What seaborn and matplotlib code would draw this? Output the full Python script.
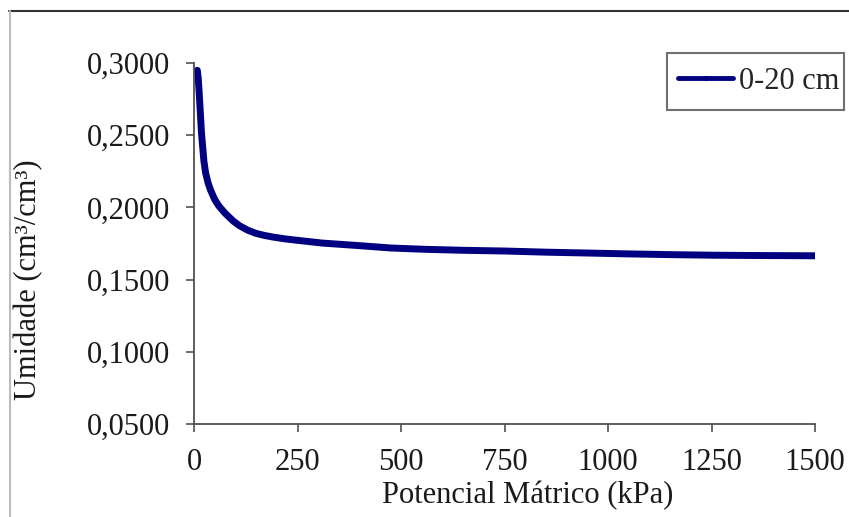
import matplotlib
matplotlib.use("Agg")
import matplotlib.pyplot as plt
import seaborn as sns
import pandas as pd
from matplotlib.ticker import FuncFormatter, FixedLocator
from matplotlib.lines import Line2D
from matplotlib.patches import Rectangle

# Data
potencial_kpa = [8, 10, 12, 14, 16, 18, 20, 24, 28, 34, 40, 50, 60, 75, 95, 110,
                 130, 150, 170, 190, 220, 250, 310, 400, 475, 555, 650, 750,
                 850, 950, 1050, 1150, 1250, 1350, 1500]
umidade = [0.2950, 0.2900, 0.2820, 0.2720, 0.2620, 0.2520, 0.2450, 0.2320,
           0.2240, 0.2170, 0.2120, 0.2055, 0.2010, 0.1960, 0.1905, 0.1873,
           0.1842, 0.1820, 0.1806, 0.1795, 0.1782, 0.1772, 0.1753, 0.1735,
           0.1719, 0.1710, 0.1703, 0.1698, 0.1690, 0.1684, 0.1678, 0.1673,
           0.1669, 0.1667, 0.1665]
serie_label = "0-20 cm"
x_ticks = [0, 250, 500, 750, 1000, 1250, 1500]
y_ticks = [0.05, 0.10, 0.15, 0.20, 0.25, 0.30]

df = pd.DataFrame({"Potencial": potencial_kpa, "Umidade": umidade})

sns.set_style("white")
plt.rcParams["font.family"] = ["Liberation Serif", "DejaVu Serif"]

FS = 22
fig = plt.figure(figsize=(8.49, 5.17), dpi=100)
ax = fig.add_axes([0.2285, 0.18, 0.96 - 0.2285, 0.878 - 0.18])

sns.lineplot(data=df, x="Potencial", y="Umidade", ax=ax, color="#000080",
             linewidth=5, label=serie_label, solid_capstyle="round",
             solid_joinstyle="round")

ax.set_xlim(0, 1500)
ax.set_ylim(0.05, 0.30)
ax.xaxis.set_major_locator(FixedLocator(x_ticks))
ax.yaxis.set_major_locator(FixedLocator(y_ticks))
ax.yaxis.set_major_formatter(FuncFormatter(lambda v, p: f"{v:.4f}".replace(".", ",")))
ax.xaxis.set_major_formatter(FuncFormatter(lambda v, p: f"{int(round(v))}"))

for s in ["top", "right"]:
    ax.spines[s].set_visible(False)
for s in ["left", "bottom"]:
    ax.spines[s].set_color("#505050")
    ax.spines[s].set_linewidth(1.3)

ax.tick_params(axis="both", which="major", direction="out", length=6, width=1.2,
               color="#505050", labelsize=FS, pad=11, labelcolor="#1a1a1a")
ax.tick_params(axis="x", bottom=True)
ax.tick_params(axis="y", left=True)

ax.set_xlabel("Potencial Mátrico (kPa)", fontsize=FS, color="#1a1a1a")
ax.set_ylabel("Umidade (cm³/cm³)", fontsize=FS, color="#1a1a1a")
ax.xaxis.set_label_coords(0.538, -0.158)
ax.yaxis.set_label_coords(-0.243, 0.40)

leg = ax.legend(loc="center right", bbox_to_anchor=(855 / 849, 1 - 81.5 / 517),
                bbox_transform=fig.transFigure, borderaxespad=0,
                fontsize=FS, frameon=False,
                handlelength=1.8, handletextpad=0.2, borderpad=0.5)
for h in leg.get_lines():
    h.set_linewidth(3.5)
    h.set_marker("o")
    h.set_markersize(3)
    h.set_markerfacecolor("#000080")
    h.set_markeredgecolor("#000080")

# legend frame as in the reference (text touches the right edge)
fig.add_artist(Rectangle((667 / 849, 1 - 110 / 517), (844 - 667) / 849, 57 / 517,
                         transform=fig.transFigure, fill=False,
                         edgecolor="#707070", linewidth=1.5))

# outer chart frame (top and left edges visible in the reference)
fig.add_artist(Line2D([9 / 849, 1], [1 - 10.5 / 517, 1 - 10.5 / 517],
                      transform=fig.transFigure, color="#333333", linewidth=1.5))
fig.add_artist(Line2D([10 / 849, 10 / 849], [0, 1 - 10.5 / 517],
                      transform=fig.transFigure, color="#bbbbbb", linewidth=1.5))

fig.savefig("out.png", dpi=100)
